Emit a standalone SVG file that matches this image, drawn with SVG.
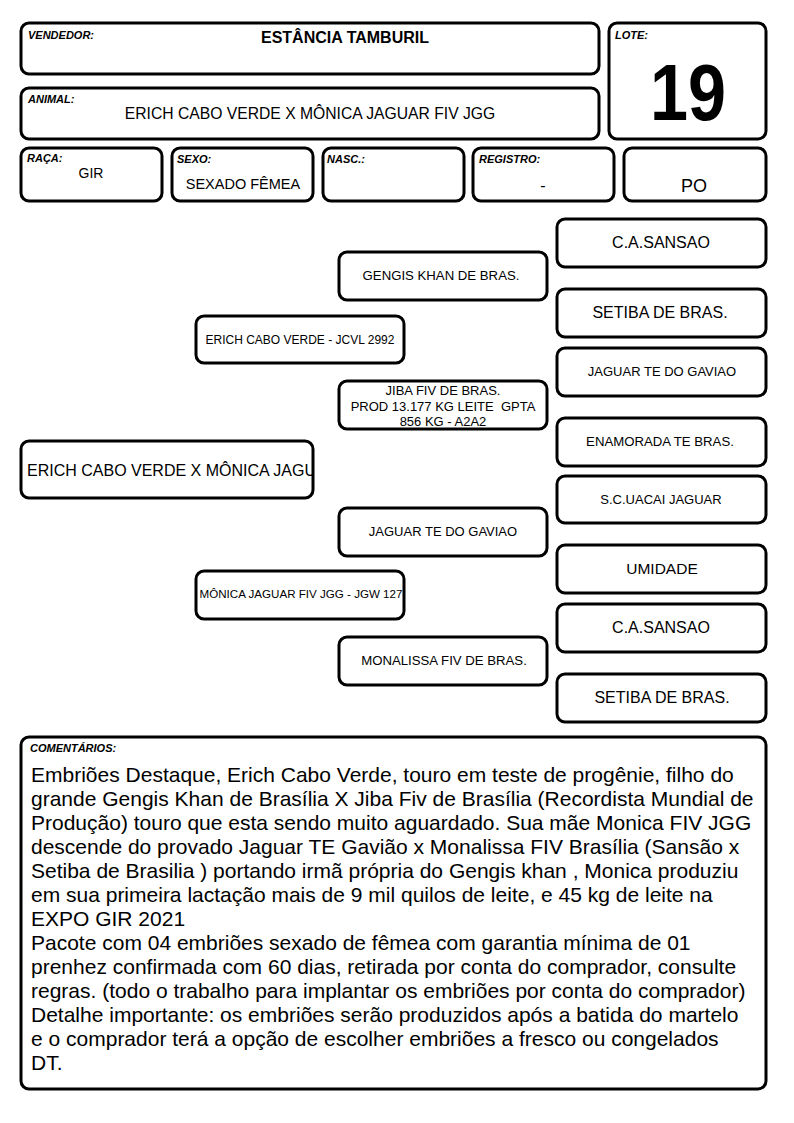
<svg xmlns="http://www.w3.org/2000/svg" width="794" height="1123" viewBox="0 0 794 1123">
<defs>
<style>
.box{fill:#fff;stroke:#000;stroke-width:3}
.lbl{font-family:"Liberation Sans",Arial,sans-serif;font-size:11px;font-weight:bold;font-style:italic;fill:#000}
.t{font-family:"Liberation Sans",Arial,sans-serif;fill:#000;text-anchor:middle}
.c{font-family:"Liberation Sans",Arial,sans-serif;font-size:21px;fill:#000}
</style>
<clipPath id="clipMain"><rect x="21" y="441" width="291" height="57"/></clipPath>
</defs>
<rect width="794" height="1123" fill="#fff"/>
<g id="vendedor"><rect class="box" x="21" y="23" width="578" height="51" rx="8"/><text class="lbl" x="28" y="39">VENDEDOR:</text><text class="t" x="345" y="43" font-size="16" font-weight="bold">ESTÂNCIA TAMBURIL</text></g>
<g id="lote"><rect class="box" x="609" y="23" width="157" height="116" rx="8"/><text class="lbl" x="615" y="39">LOTE:</text><text class="t" x="688" y="120" font-size="80" font-weight="bold" textLength="76" lengthAdjust="spacingAndGlyphs">19</text></g>
<g id="animal"><rect class="box" x="21" y="88" width="578" height="51" rx="8"/><text class="lbl" x="28" y="103">ANIMAL:</text><text class="t" x="310" y="119" font-size="15.7">ERICH CABO VERDE X MÔNICA JAGUAR FIV JGG</text></g>
<g id="raca"><rect class="box" x="21" y="148" width="141" height="53" rx="8"/><text class="lbl" x="27" y="162">RAÇA:</text><text class="t" x="91" y="178" font-size="14">GIR</text></g>
<g id="sexo"><rect class="box" x="172" y="148" width="141" height="53" rx="8"/><text class="lbl" x="177" y="163">SEXO:</text><text class="t" x="243" y="189" font-size="14.5">SEXADO FÊMEA</text></g>
<g id="nasc"><rect class="box" x="323" y="148" width="141" height="53" rx="8"/><text class="lbl" x="327" y="163">NASC.:</text></g>
<g id="registro"><rect class="box" x="473" y="148" width="141" height="53" rx="8"/><text class="lbl" x="479" y="163">REGISTRO:</text><text class="t" x="543" y="191" font-size="16">-</text></g>
<g id="po"><rect class="box" x="624" y="148" width="142" height="53" rx="8"/><text class="t" x="694" y="192" font-size="18">PO</text></g>
<g id="connectors"></g>
<g id="main"><rect class="box" x="21" y="441" width="292" height="57" rx="8"/><text font-family="Liberation Sans, Arial, sans-serif" font-size="16" x="27" y="476" clip-path="url(#clipMain)">ERICH CABO VERDE X MÔNICA JAGUAR FIV JGG</text></g>
<g id="sire"><rect class="box" x="196" y="316" width="208" height="47" rx="8"/><text class="t" x="300" y="344" font-size="12">ERICH CABO VERDE - JCVL 2992</text></g>
<g id="dam"><rect class="box" x="196" y="571" width="208" height="48" rx="8"/><text class="t" x="301" y="598" font-size="11.6">MÔNICA JAGUAR FIV JGG - JGW 127</text></g>
<g id="gengis"><rect class="box" x="339" y="252" width="208" height="48" rx="8"/><text class="t" x="441" y="280" font-size="13.2">GENGIS KHAN DE BRAS.</text></g>
<g id="jiba"><rect class="box" x="339" y="381" width="208" height="48" rx="8"/><text class="t" x="443" y="395" font-size="13">JIBA FIV DE BRAS.</text><text class="t" x="443" y="411" font-size="13" xml:space="preserve">PROD 13.177 KG LEITE  GPTA</text><text class="t" x="443" y="426" font-size="13">856 KG - A2A2</text></g>
<g id="jaguar"><rect class="box" x="339" y="508" width="208" height="48" rx="8"/><text class="t" x="443" y="536" font-size="13">JAGUAR TE DO GAVIAO</text></g>
<g id="monalissa"><rect class="box" x="339" y="637" width="208" height="48" rx="8"/><text class="t" x="444" y="665" font-size="13.2">MONALISSA FIV DE BRAS.</text></g>
<g id="r1"><rect class="box" x="557" y="219" width="209" height="48" rx="8"/><text class="t" x="661" y="248" font-size="16">C.A.SANSAO</text></g>
<g id="r2"><rect class="box" x="557" y="289" width="209" height="48" rx="8"/><text class="t" x="660" y="318" font-size="16">SETIBA DE BRAS.</text></g>
<g id="r3"><rect class="box" x="557" y="348" width="209" height="48" rx="8"/><text class="t" x="662" y="376" font-size="13">JAGUAR TE DO GAVIAO</text></g>
<g id="r4"><rect class="box" x="557" y="418" width="209" height="48" rx="8"/><text class="t" x="660" y="446" font-size="13.2">ENAMORADA TE BRAS.</text></g>
<g id="r5"><rect class="box" x="557" y="476" width="209" height="47" rx="8"/><text class="t" x="661" y="504" font-size="13">S.C.UACAI JAGUAR</text></g>
<g id="r6"><rect class="box" x="557" y="545" width="209" height="48" rx="8"/><text class="t" x="662" y="574" font-size="15.5">UMIDADE</text></g>
<g id="r7"><rect class="box" x="557" y="604" width="209" height="48" rx="8"/><text class="t" x="661" y="633" font-size="16">C.A.SANSAO</text></g>
<g id="r8"><rect class="box" x="557" y="674" width="209" height="48" rx="8"/><text class="t" x="662" y="703" font-size="16">SETIBA DE BRAS.</text></g>
<g id="comentarios"><rect class="box" x="21" y="737" width="745" height="352" rx="8"/><text class="lbl" x="30" y="752">COMENTÁRIOS:</text>
<text class="c" x="31" y="782">Embriões Destaque, Erich Cabo Verde, touro em teste de progênie, filho do</text>
<text class="c" x="31" y="806">grande Gengis Khan de Brasília X Jiba Fiv de Brasília (Recordista Mundial de</text>
<text class="c" x="31" y="830">Produção) touro que esta sendo muito aguardado. Sua mãe Monica FIV JGG</text>
<text class="c" x="31" y="854">descende do provado Jaguar TE Gavião x Monalissa FIV Brasília (Sansão x</text>
<text class="c" x="31" y="878">Setiba de Brasilia ) portando irmã própria do Gengis khan , Monica produziu</text>
<text class="c" x="31" y="902">em sua primeira lactação mais de 9 mil quilos de leite, e 45 kg de leite na</text>
<text class="c" x="31" y="926">EXPO GIR 2021</text>
<text class="c" x="31" y="950">Pacote com 04 embriões sexado de fêmea com garantia mínima de 01</text>
<text class="c" x="31" y="974">prenhez confirmada com 60 dias, retirada por conta do comprador, consulte</text>
<text class="c" x="31" y="998">regras. (todo o trabalho para implantar os embriões por conta do comprador)</text>
<text class="c" x="31" y="1022">Detalhe importante: os embriões serão produzidos após a batida do martelo</text>
<text class="c" x="31" y="1046">e o comprador terá a opção de escolher embriões a fresco ou congelados</text>
<text class="c" x="31" y="1070">DT.</text>
</g>
</svg>
